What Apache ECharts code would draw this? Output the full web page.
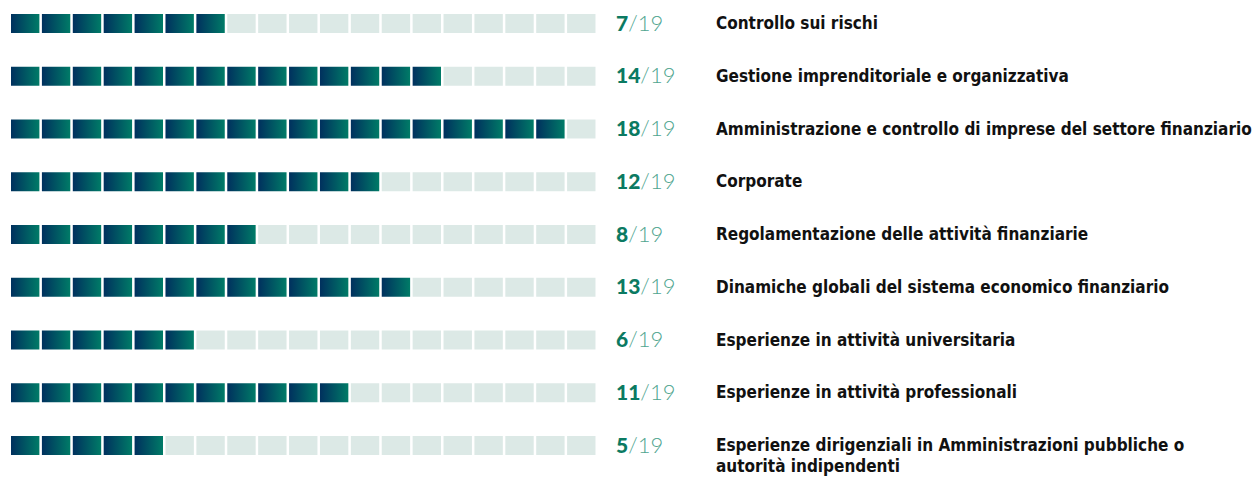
<!DOCTYPE html>
<html>
<head>
<meta charset="utf-8">
<title>Competenze</title>
<script src="https://cdn.jsdelivr.net/npm/echarts@6/dist/echarts.min.js"></script>
<style>
  html, body { margin: 0; padding: 0; background: #fff; }
  #main { width: 1260px; height: 479px; }
</style>
</head>
<body>
<div id="main"></div>
<script>
// dati
var categories = [
  "Controllo sui rischi",
  "Gestione imprenditoriale e organizzativa",
  "Amministrazione e controllo di imprese del settore finanziario",
  "Corporate",
  "Regolamentazione delle attività finanziarie",
  "Dinamiche globali del sistema economico finanziario",
  "Esperienze in attività universitaria",
  "Esperienze in attività professionali",
  "Esperienze dirigenziali in Amministrazioni pubbliche o\nautorità indipendenti"
];
var scores = [7, 14, 18, 12, 8, 13, 6, 11, 5];
var total = 19;

var myChart = echarts.init(document.getElementById("main"), null, { renderer: "svg" });

var gradient = new echarts.graphic.LinearGradient(0, 0, 1, 0, [
  { offset: 0, color: "#00305e" },
  { offset: 1, color: "#007b67" }
]);

function renderItem(params, api) {
  var row = api.value(1);
  var cnt = api.value(0);
  var cy = api.coord([0, row])[1];
  var children = [];
  // quadratini
  for (var i = 0; i < total; i++) {
    var x0 = api.coord([i, row])[0];
    var x1 = api.coord([i + 1, row])[0];
    children.push({
      type: "rect",
      shape: { x: x0, y: cy - 9.5, width: x1 - x0 - 2.5, height: 19 },
      style: { fill: i < cnt ? gradient : "#dce9e6" }
    });
  }
  // punteggio
  children.push({
    type: "text",
    style: {
      x: 616,
      y: cy - 1.5,
      text: "{a|" + cnt + "}{b|/" + total + "}",
      verticalAlign: "middle",
      rich: {
        a: { fontFamily: "Lato", fontWeight: 900, fontSize: 21, fill: "#0b7a62", color: "#0b7a62" },
        b: { fontFamily: "Lato", fontWeight: 300, fontSize: 22, fill: "#4fa58f", color: "#4fa58f" }
      }
    }
  });
  // etichetta
  children.push({
    type: "text",
    style: {
      x: 716,
      y: cy - 11,
      text: categories[params.dataIndex],
      verticalAlign: "top",
      fontFamily: "DejaVu Sans Condensed",
      fontWeight: "bold",
      fontSize: 17,
      lineHeight: 21,
      fill: "#111111"
    }
  });
  return { type: "group", children: children };
}

var option = {
  animation: false,
  grid: { left: 11, top: 23.5, width: 587, height: 422 },
  xAxis: { type: "value", min: 0, max: total, show: false },
  yAxis: {
    type: "category",
    data: categories,
    inverse: true,
    boundaryGap: false,
    show: false
  },
  series: [
    {
      type: "custom",
      renderItem: renderItem,
      clip: false,
      encode: { x: 0, y: 1 },
      data: scores.map(function (v, i) { return [v, i]; })
    }
  ]
};

myChart.setOption(option);
</script>
</body>
</html>
